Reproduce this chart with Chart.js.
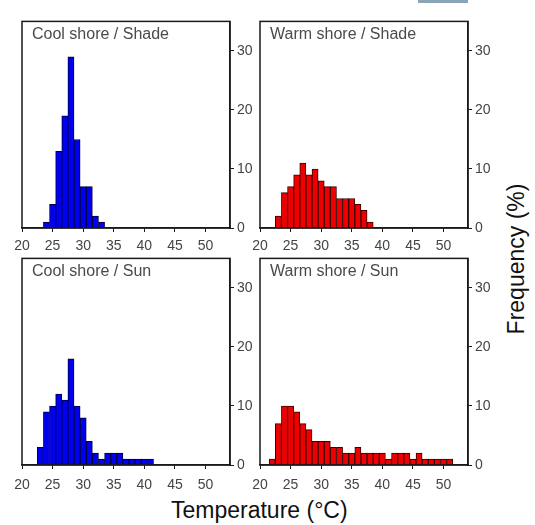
<!DOCTYPE html>
<html>
<head>
<meta charset="utf-8">
<script src="https://cdn.jsdelivr.net/npm/chart.js@4.4.1/dist/chart.umd.min.js"></script>
<style>
  html, body { margin: 0; padding: 0; background: #fff; }
  body { width: 535px; height: 525px; position: relative; overflow: hidden; font-family: "Liberation Sans", Arial, sans-serif; }
  .panel { position: absolute; }
  .xtitle { position: absolute; left: 171px; top: 497px; font-size: 23px; color: #111; white-space: nowrap; }
  .ytitle { position: absolute; left: 516px; top: 259px; font-size: 23px; color: #111; white-space: nowrap;
            transform: translate(-50%, -50%) rotate(-90deg); }
  .topbar { position: absolute; left: 418px; top: 0; width: 50px; height: 3px; background: #8aa4b8; }
</style>
</head>
<body>
<div class="topbar"></div>
<div class="panel" id="p1"><canvas id="c1"></canvas></div>
<div class="panel" id="p2"><canvas id="c2"></canvas></div>
<div class="panel" id="p3"><canvas id="c3"></canvas></div>
<div class="panel" id="p4"><canvas id="c4"></canvas></div>
<div class="xtitle">Temperature (°C)</div>
<div class="ytitle">Frequency (%)</div>

<script>
// bin centres (°C, 1-degree bins) and frequencies (%)
const coolShadeBins = [24, 25, 26, 27, 28, 29, 30, 31, 32, 33];
const coolShadeFreq = [1, 4, 13, 19, 29, 15, 7, 7, 2, 1];

const warmShadeBins = [23, 24, 25, 26, 27, 28, 29, 30, 31, 32, 33, 34, 35, 36, 37, 38];
const warmShadeFreq = [2, 6, 7, 9, 11, 9, 10, 8, 7, 7, 5, 5, 5, 4, 3, 1];

const coolSunBins = [23, 24, 25, 26, 27, 28, 29, 30, 31, 32, 33, 34, 35, 36, 37, 38, 39, 40, 41];
const coolSunFreq = [3, 9, 10, 12, 11, 18, 10, 8, 4, 2, 1, 2, 2, 2, 1, 1, 1, 1, 1];

const warmSunBins = [22, 23, 24, 25, 26, 27, 28, 29, 30, 31, 32, 33, 34, 35, 36, 37, 38, 39, 40, 41,
                     42, 43, 44, 45, 46, 47, 48, 49, 50, 51];
const warmSunFreq = [1, 7, 10, 10, 9, 7, 6, 4, 4, 4, 3, 3, 2, 2, 3, 2, 2, 2, 2, 1,
                     2, 2, 2, 1, 2, 1, 1, 1, 1, 1];

const xTicks = [20, 25, 30, 35, 40, 45, 50];
const yTicks = [0, 10, 20, 30];

const frame = {
    id: 'frame',
    afterDatasetsDraw(chart) {
        const a = chart.chartArea, ctx = chart.ctx;
        ctx.save();
        ctx.strokeStyle = '#1a1a1a';
        ctx.lineWidth = 1.5;
        ctx.strokeRect(a.left, a.top, a.right - a.left, a.bottom - a.top);
        ctx.restore();
    }
};

function panel(n, box, title, bins, freq, fill, edge, xPad) {
    const padL = 10, padT = 9, yW = 30, xH = 28;
    const div = document.getElementById('p' + n);
    div.style.left = (box.l - padL) + 'px';
    div.style.top = (box.t - padT) + 'px';
    div.style.width = (box.r - box.l + padL + yW) + 'px';
    div.style.height = (box.b - box.t + padT + xH) + 'px';

    new Chart(document.getElementById('c' + n), {
        type: 'bar',
        data: {
            datasets: [{
                data: bins.map((b, i) => ({ x: b, y: freq[i] })),
                backgroundColor: fill,
                borderColor: edge,
                borderWidth: 1,
                barPercentage: 1,
                categoryPercentage: 1
            }]
        },
        options: {
            responsive: true,
            maintainAspectRatio: false,
            animation: false,
            layout: { padding: { left: padL, top: padT, right: 0, bottom: 0 } },
            plugins: {
                legend: { display: false },
                tooltip: { enabled: false }
            },
            scales: {
                x: {
                    type: 'linear',
                    min: 20, max: 54,
                    offset: false,
                    afterFit: s => { s.height = xH; s.paddingLeft = 0; s.paddingRight = 0; },
                    afterBuildTicks: s => { s.ticks = xTicks.map(v => ({ value: v })); },
                    grid: { offset: false, drawOnChartArea: false, tickLength: 4, color: '#1a1a1a', lineWidth: 1 },
                    border: { color: '#1a1a1a', width: 1.5 },
                    ticks: { color: '#444', font: { family: 'Liberation Sans', size: 14 }, padding: xPad, maxRotation: 0 }
                },
                y: {
                    position: 'right',
                    min: 0, max: 35,
                    afterFit: s => { s.width = yW; },
                    afterBuildTicks: s => { s.ticks = yTicks.map(v => ({ value: v })); },
                    grid: { drawOnChartArea: false, tickLength: 4, color: '#1a1a1a', lineWidth: 1 },
                    border: { color: '#1a1a1a', width: 1.5 },
                    ticks: { color: '#444', font: { family: 'Liberation Sans', size: 14 }, padding: 3 }
                }
            }
        },
        plugins: [frame, {
            id: 'label',
            afterDraw(chart) {
                const ctx = chart.ctx, a = chart.chartArea;
                ctx.save();
                ctx.fillStyle = '#4a4a4a';
                ctx.font = '16px "Liberation Sans", Arial, sans-serif';
                ctx.textBaseline = 'middle';
                ctx.fillText(title, a.left + 10, a.top + 13);
                ctx.restore();
            }
        }]
    });
}

panel(1, { l: 22, r: 230, t: 19, b: 228 }, 'Cool shore / Shade', coolShadeBins, coolShadeFreq, '#0000ee', '#00003a', 6);
panel(2, { l: 260, r: 468, t: 19, b: 228 }, 'Warm shore / Shade', warmShadeBins, warmShadeFreq, '#ee0000', '#3a0000', 6);
panel(3, { l: 22, r: 230, t: 256, b: 465 }, 'Cool shore / Sun', coolSunBins, coolSunFreq, '#0000ee', '#00003a', 8);
panel(4, { l: 260, r: 468, t: 256, b: 465 }, 'Warm shore / Sun', warmSunBins, warmSunFreq, '#ee0000', '#3a0000', 8);
</script>
</body>
</html>
